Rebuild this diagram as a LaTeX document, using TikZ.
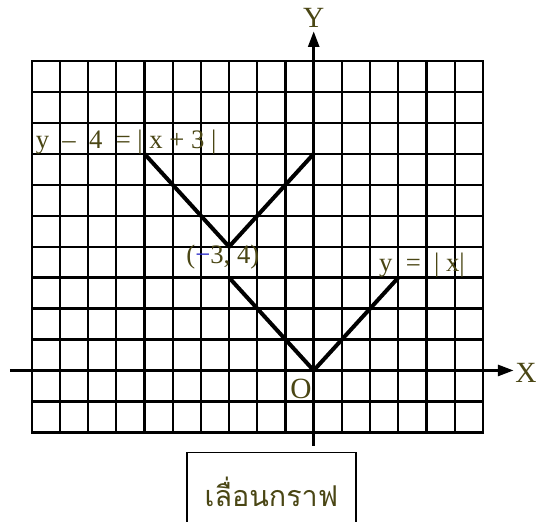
\documentclass[tikz,border=0pt]{standalone}
\usepackage{fontspec}
\setmainfont{Liberation Serif}
\newfontfamily\thaifont[Script=Thai]{Loma}
\usetikzlibrary{arrows.meta}
\definecolor{graphOlive}{RGB}{74,70,20}
\definecolor{graphBlue}{RGB}{40,40,200}
\tikzset{
  gridline/.style={line width=1.75pt,black},
  axisline/.style={line width=2.6pt,black,-{Triangle[length=12pt,width=8pt]}},
  vline/.style={line width=3pt,black},
  graphlabel/.style={text=graphOlive,font=\fontsize{20}{22}\selectfont,inner sep=0pt},
  axislabel/.style={text=graphOlive,font=\fontsize{22}{24}\selectfont,inner sep=0pt}
}
\begin{document}
\begin{tikzpicture}[x=21.15pt,y=23.21pt]
      \useasboundingbox (-11.124,-4.895) rectangle (8.167,11.971);
      \draw[gridline,step={(1,1)}] (-10,-2) grid (6,10);
      \draw[gridline] (-10,-2) rectangle (6,10);
      % axes
      \coordinate (xstart) at (-10.77,0);
      \coordinate (xend) at (7.1,0);
      \coordinate (ystart) at (0,-2.44);
      \coordinate (yend) at (0,10.97);
      \draw[axisline] (xstart) -- (xend);
      \draw[axisline] (ystart) -- (yend);
      \node[axislabel] (ylab) at (0,11.39) {Y};
      \node[axislabel] (xlab) at (7.53,-0.08) {X};
      \node[axislabel] (olab) at (-0.45,-0.6) {O};
      % y = |x|
      \coordinate (absL) at (-3,3);
      \coordinate (absO) at (0,0);
      \coordinate (absR) at (3,3);
      \draw[vline] (absL) -- (absO) -- (absR);
      % y - 4 = |x + 3|
      \coordinate (shL) at (-6,7);
      \coordinate (shV) at (-3,4);
      \coordinate (shR) at (0,7);
      \draw[vline] (shL) -- (shV) -- (shR);
      \node[graphlabel,anchor=base] (vlab) at (-3.22,3.46) {(\textcolor{graphBlue}{−}3, 4)};
      \node[graphlabel,anchor=base] (abslab) at (3.84,3.19) {y \ = \ | x|};
      \node[graphlabel,anchor=base] (shlab) at (-6.65,7.18) {y \ – \ 4 \ = | x + 3 |};
      \node[draw,line width=1.1pt,minimum width=126.9pt,minimum height=59pt,text=graphOlive,
            font=\thaifont\fontsize{21.5}{24}\selectfont] (shiftbox) at (-1.5,-3.93) {เลื่อนกราฟ};
    \end{tikzpicture}
\end{document}
